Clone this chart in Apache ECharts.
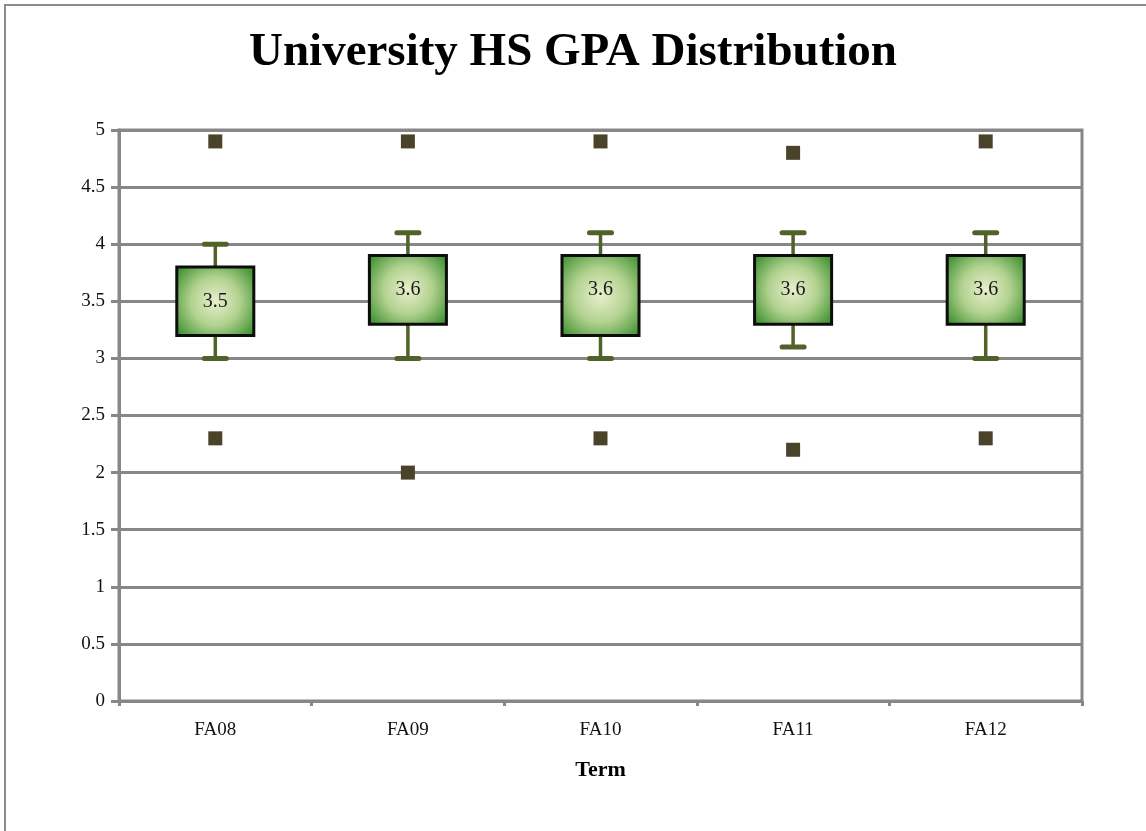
<!DOCTYPE html>
<html>
<head>
<meta charset="utf-8">
<title>University HS GPA Distribution</title>
<script src="https://cdn.jsdelivr.net/npm/echarts@6/dist/echarts.min.js"></script>
<style>
  html, body { margin: 0; padding: 0; background: #fff; }
  #chart { width: 1146px; height: 831px; }
</style>
</head>
<body>
<div id="chart"></div>
<script>
// data
var terms = ['FA08', 'FA09', 'FA10', 'FA11', 'FA12']
var lowWhisker = [3.0, 3.0, 3.0, 3.1, 3.0]
var q1 = [3.2, 3.3, 3.2, 3.3, 3.3]
var median = [3.5, 3.6, 3.6, 3.6, 3.6]
var q3 = [3.8, 3.9, 3.9, 3.9, 3.9]
var highWhisker = [4.0, 4.1, 4.1, 4.1, 4.1]
var maxOutlier = [4.9, 4.9, 4.9, 4.8, 4.9]
var minOutlier = [2.3, 2.0, 2.3, 2.2, 2.3]

var serif = "'Liberation Serif', 'DejaVu Serif', serif"
var gray = '#878787'
var whiskerColor = '#4f6228'

var boxData = terms.map(function (t, i) {
  return [i, lowWhisker[i], q1[i], median[i], q3[i], highWhisker[i]]
})
var outlierData = []
terms.forEach(function (t, i) {
  outlierData.push([i, maxOutlier[i]])
  outlierData.push([i, minOutlier[i]])
})

function renderBox(params, api) {
  var idx = api.value(0)
  var pLow = api.coord([idx, api.value(1)])
  var pQ1 = api.coord([idx, api.value(2)])
  var pMed = api.coord([idx, api.value(3)])
  var pQ3 = api.coord([idx, api.value(4)])
  var pHigh = api.coord([idx, api.value(5)])
  var bandW = api.size([1, 0])[0]
  var boxW = bandW * 0.4
  var capW = 22
  var x = pQ1[0]
  var stem = { stroke: whiskerColor, lineWidth: 3.5 }
  var cap = { stroke: whiskerColor, lineWidth: 5, lineCap: 'round' }
  return {
    type: 'group',
    children: [
      { type: 'line', shape: { x1: x, y1: pQ1[1], x2: x, y2: pLow[1] }, style: stem },
      { type: 'line', shape: { x1: x, y1: pQ3[1], x2: x, y2: pHigh[1] }, style: stem },
      { type: 'line', shape: { x1: x - capW / 2, y1: pLow[1], x2: x + capW / 2, y2: pLow[1] }, style: cap },
      { type: 'line', shape: { x1: x - capW / 2, y1: pHigh[1], x2: x + capW / 2, y2: pHigh[1] }, style: cap },
      {
        type: 'rect',
        shape: { x: x - boxW / 2, y: pQ3[1], width: boxW, height: pQ1[1] - pQ3[1] },
        style: {
          fill: new echarts.graphic.RadialGradient(0.5, 0.5, 0.75, [
            { offset: 0, color: '#e8efcc' },
            { offset: 0.45, color: '#b2d290' },
            { offset: 1, color: '#27841c' }
          ]),
          stroke: '#0d0d0d',
          lineWidth: 3
        }
      },
      {
        type: 'text',
        x: x,
        y: pMed[1],
        style: {
          text: String(api.value(3)),
          fontFamily: serif,
          fontSize: 20,
          fill: '#1a1a1a',
          align: 'center',
          verticalAlign: 'middle'
        }
      }
    ]
  }
}

var chart = echarts.init(document.getElementById('chart'), null, { renderer: 'canvas' })
chart.setOption({
  animation: false,
  backgroundColor: '#fff',
  title: {
    text: 'University HS GPA Distribution',
    left: 'center',
    top: 24,
    textStyle: { fontFamily: serif, fontSize: 47, fontWeight: 'bold', color: '#000' }
  },
  graphic: [
    {
      type: 'polyline',
      shape: { points: [[5, 840], [5, 5], [1150, 5]] },
      style: { stroke: '#8c8c8c', lineWidth: 2, fill: null }
    }
  ],
  grid: {
    left: 119,
    right: 64,
    top: 130,
    bottom: 130,
    show: true,
    borderColor: gray,
    borderWidth: 3
  },
  xAxis: {
    type: 'category',
    data: terms,
    boundaryGap: true,
    name: 'Term',
    nameLocation: 'middle',
    nameGap: 58,
    nameTextStyle: { fontFamily: serif, fontSize: 22, fontWeight: 'bold', color: '#000' },
    axisLine: { lineStyle: { color: gray, width: 3 } },
    axisTick: { show: true, length: 5, lineStyle: { color: gray, width: 3 } },
    axisLabel: { fontFamily: serif, fontSize: 19, color: '#111', margin: 20 }
  },
  yAxis: {
    type: 'value',
    min: 0,
    max: 5,
    interval: 0.5,
    axisLine: { show: true, lineStyle: { color: gray, width: 3 } },
    axisTick: { show: true, length: 8, lineStyle: { color: gray, width: 3 } },
    axisLabel: { fontFamily: serif, fontSize: 19, color: '#111', margin: 14 },
    splitLine: { show: true, lineStyle: { color: gray, width: 3 } }
  },
  series: [
    {
      type: 'custom',
      renderItem: renderBox,
      data: boxData,
      encode: { x: 0, y: [1, 2, 3, 4, 5] },
      z: 3
    },
    {
      type: 'scatter',
      data: outlierData,
      symbol: 'rect',
      symbolSize: 14,
      itemStyle: { color: '#4a4329', opacity: 1 },
      z: 4
    }
  ]
})
</script>
</body>
</html>
